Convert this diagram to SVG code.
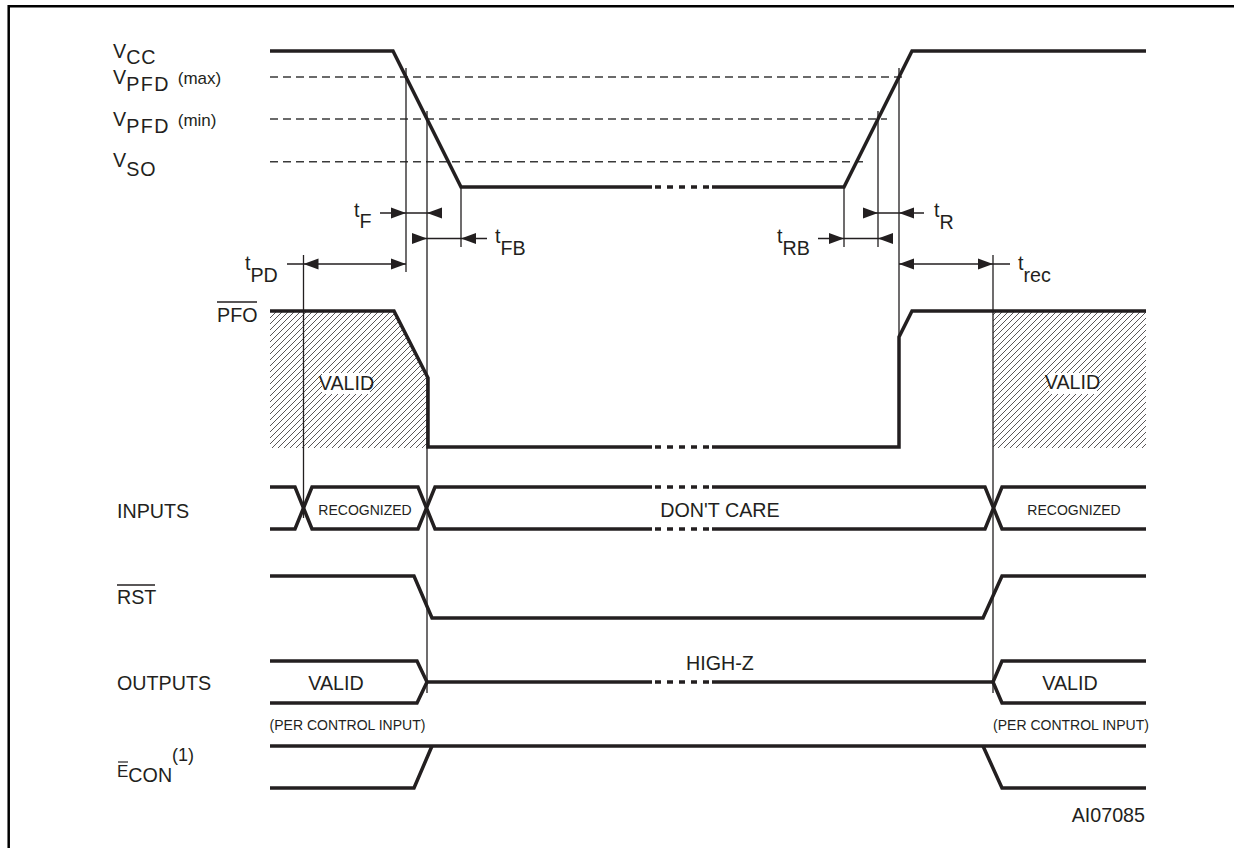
<svg xmlns="http://www.w3.org/2000/svg" width="1234" height="848" viewBox="0 0 1234 848">
<defs>
<style>
.thick{fill:none;stroke:#231f20;stroke-width:3.5;stroke-linejoin:miter}
.thin{fill:none;stroke:#231f20;stroke-width:1.3}
.dash{fill:none;stroke:#3a3a3a;stroke-width:1.6;stroke-dasharray:8 5}
.brk{fill:none;stroke:#231f20;stroke-width:3.5;stroke-dasharray:6 6}
.lbl{font-family:"Liberation Sans",Arial,sans-serif;font-size:19.7px;fill:#231f20}
.sm{font-size:14px}
.mid{text-anchor:middle}
</style>
<pattern id="hatch" patternUnits="userSpaceOnUse" width="6" height="6">
<path d="M-1,1 L1,-1 M0,6 L6,0 M5,7 L7,5" stroke="#231f20" stroke-width="0.75"/>
</pattern>
<polygon id="ar" points="0,0 -15,-5.5 -15,5.5" fill="#231f20"/>
<polygon id="al" points="0,0 15,-5.5 15,5.5" fill="#231f20"/>
</defs>
<rect width="1234" height="848" fill="#ffffff"/>
<path d="M8.7,848 V6.2 H1234" fill="none" stroke="#000" stroke-width="2.5"/>

<g id="sig-vcc">
<path class="dash" d="M270,77 H907"/>
<path class="dash" d="M270,119 H887"/>
<path class="dash" d="M270,161.7 H865"/>
<path class="thick" d="M270,51 H393 L461,187 H652"/>
<path class="brk" d="M655,187 H709"/>
<path class="thick" d="M712,187 H844 L912,51 H1146"/>
<text class="lbl" x="113" y="58">V<tspan dy="6" letter-spacing="1">CC</tspan></text>
<text class="lbl" x="113" y="84">V<tspan dy="7" letter-spacing="1.5">PFD</tspan><tspan dy="-7" dx="3" font-size="17"> (max)</tspan></text>
<text class="lbl" x="113" y="126">V<tspan dy="7" letter-spacing="1.5">PFD</tspan><tspan dy="-7" dx="3" font-size="17"> (min)</tspan></text>
<text class="lbl" x="113" y="167">V<tspan dy="9" letter-spacing="1">SO</tspan></text>
</g>

<g id="sig-pfo">
<polygon points="270,311 394,311 428,378 428,448 270,448" fill="url(#hatch)"/>
<rect x="993" y="311" width="153" height="137" fill="url(#hatch)"/>
<rect x="322" y="373" width="48" height="21" fill="#fff"/>
<rect x="1049" y="373" width="48" height="21" fill="#fff"/>
<path class="thick" d="M270,311 H394 L428,378 V447 H652"/>
<path class="brk" d="M655,447 H709"/>
<path class="thick" d="M712,447 H899 V337 L912,311 H1146"/>
<text class="lbl" x="217" y="322">PFO</text>
<path d="M217,302 H257" stroke="#231f20" stroke-width="1.3"/>
<text class="lbl mid" x="346.5" y="390" font-size="13.5">VALID</text>
<text class="lbl mid" x="1072.5" y="389" font-size="13.5">VALID</text>
</g>

<g id="sig-inputs">
<path class="thick" d="M270,487 H295 L312,529 H418 L435,487 H652"/>
<path class="thick" d="M270,529 H295 L312,487 H418 L435,529 H652"/>
<path class="brk" d="M655,487 H709 M655,529 H709"/>
<path class="thick" d="M712,487 H985 L1002,529 H1146"/>
<path class="thick" d="M712,529 H985 L1002,487 H1146"/>
<text class="lbl" x="117" y="518">INPUTS</text>
<text class="lbl sm mid" x="365" y="515">RECOGNIZED</text>
<text class="lbl mid" x="720" y="517">DON'T CARE</text>
<text class="lbl sm mid" x="1074" y="515">RECOGNIZED</text>
</g>

<g id="sig-rst">
<path class="thick" d="M270,576 H414 L432,618 H983 L1002,576 H1146"/>
<text class="lbl" x="117" y="604">RST</text>
<path d="M117,585 H155" stroke="#231f20" stroke-width="1.3"/>
</g>

<g id="sig-outputs">
<path class="thick" d="M270,661 H417 L427,682 L417,703 H270"/>
<path class="thick" d="M427,682 H652"/>
<path class="brk" d="M655,682 H709"/>
<path class="thick" d="M712,682 H993"/>
<path class="thick" d="M1146,661 H1002 L993,682 L1002,703 H1146"/>
<text class="lbl" x="117" y="690">OUTPUTS</text>
<text class="lbl mid" x="336" y="690">VALID</text>
<text class="lbl mid" x="720" y="670">HIGH-Z</text>
<text class="lbl mid" x="1070" y="690">VALID</text>
<text class="lbl sm mid" x="347.5" y="730">(PER CONTROL INPUT)</text>
<text class="lbl sm mid" x="1071" y="730">(PER CONTROL INPUT)</text>
</g>

<g id="sig-econ">
<path class="thick" d="M270,746 H1146"/>
<path class="thick" d="M270,788 H414 L432,746"/>
<path class="thick" d="M983,746 L1002,788 H1146"/>
<text class="lbl" x="117" y="777"><tspan font-size="17">E</tspan><tspan dy="5">CON</tspan><tspan dy="-21" font-size="18">(1)</tspan></text>
<path d="M118,762 H128" stroke="#231f20" stroke-width="1.2"/>
</g>

<g id="connectors">
<path class="thin" d="M303.5,255 V518 M406,68 V272 M427,111 V693 M461,187 V247 M844,187 V247 M878,111 V247 M899,68 V447 M993,255 V693"/>
<path class="thin" d="M380,213 H442 M412,238.5 H487 M287,264 H406 M863,213 H924 M818,238.5 H892 M899,264 H1010"/>
<use href="#ar" x="406" y="213"/><use href="#al" x="427" y="213"/>
<use href="#ar" x="427" y="238.5"/><use href="#al" x="461" y="238.5"/>
<use href="#al" x="303.5" y="264"/><use href="#ar" x="406" y="264"/>
<use href="#ar" x="878" y="213"/><use href="#al" x="899" y="213"/>
<use href="#ar" x="844" y="238.5"/><use href="#al" x="878" y="238.5"/>
<use href="#al" x="899" y="264"/><use href="#ar" x="993" y="264"/>
<text class="lbl" x="354" y="217">t<tspan dy="11">F</tspan></text>
<text class="lbl" x="495" y="243">t<tspan dy="12">FB</tspan></text>
<text class="lbl" x="245" y="270">t<tspan dy="12">PD</tspan></text>
<text class="lbl" x="777" y="243">t<tspan dy="12">RB</tspan></text>
<text class="lbl" x="934" y="217">t<tspan dy="12">R</tspan></text>
<text class="lbl" x="1018" y="270">t<tspan dy="12">rec</tspan></text>
</g>

<text class="lbl" x="1145" y="822" font-size="16" text-anchor="end">AI07085</text>
</svg>
